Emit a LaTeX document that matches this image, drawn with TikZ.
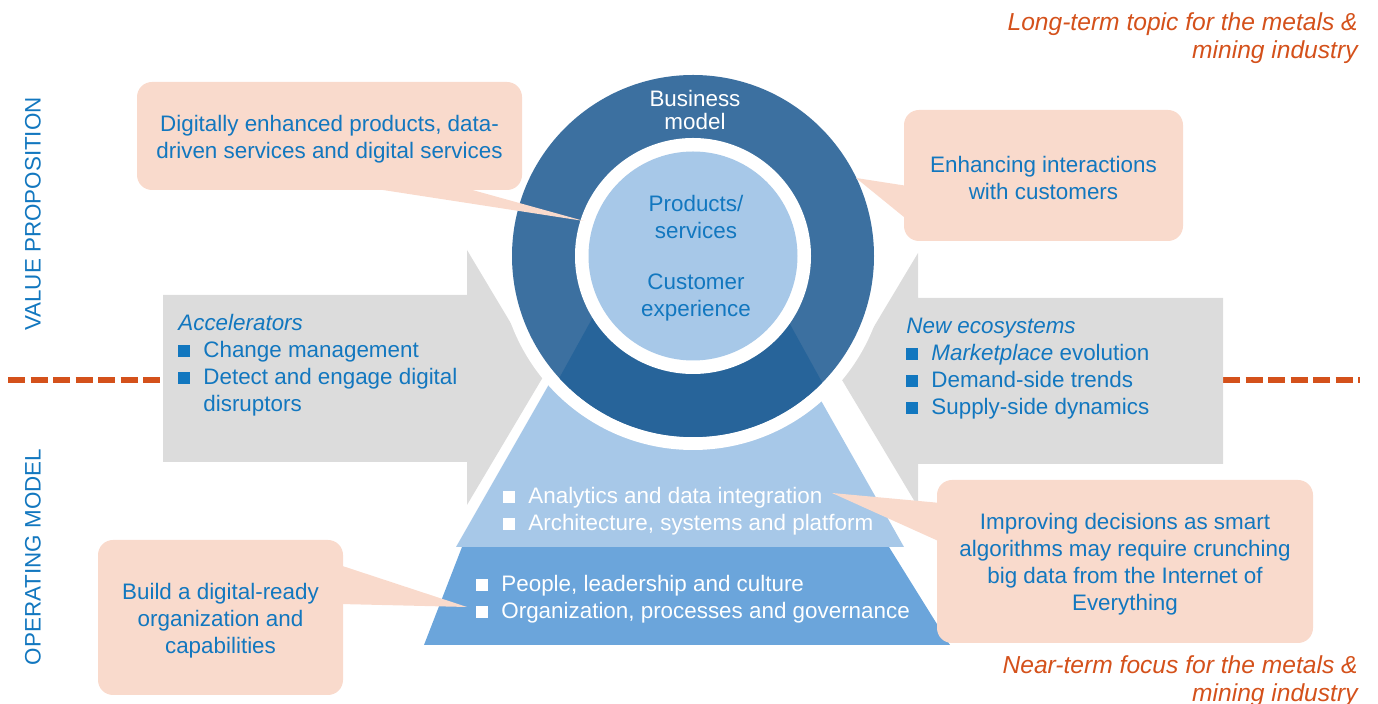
\documentclass[tikz,border=0pt]{standalone}
\usepackage{fontspec}
\setmainfont{Liberation Sans}
\usepackage{xcolor}
\usetikzlibrary{calc}
\definecolor{ringblue}{HTML}{3C70A0}
\definecolor{ringdark}{HTML}{27649A}
\definecolor{paleblue}{HTML}{A7C8E8}
\definecolor{midblue}{HTML}{6BA5DB}
\definecolor{greyarrow}{HTML}{DCDCDC}
\definecolor{salmon}{HTML}{F9DACC}
\definecolor{textblue}{HTML}{1277BF}
\definecolor{rust}{HTML}{D4511B}
\newcommand{\diagfont}{\fontsize{11.2}{13.5}\selectfont}
\newcommand{\sqbul}[1]{\makebox[12.5pt][l]{\textcolor{#1}{\rule[0.4pt]{6pt}{6pt}}}}
\newcommand{\topstrut}{\rule{0pt}{11pt}}
\tikzset{
  callout/.style={rectangle, rounded corners=7.5pt, fill=salmon,
                  text=textblue, align=center, font=\diagfont, inner sep=0pt},
  calltail/.style={fill=salmon},
  chevron/.style={fill=greyarrow},
  listtext/.style={font=\diagfont, text=textblue, align=left,
                   inner sep=0pt, anchor=west},
  whitelist/.style={listtext, text=white},
  ringtext/.style={font=\diagfont, align=center, inner sep=0pt},
  sidelabel/.style={font=\diagfont, text=textblue, rotate=90, inner sep=0pt},
  horizon/.style={font=\fontsize{12.3}{14}\selectfont\itshape, text=rust,
                  align=right, inner sep=0pt, anchor=east},
  splitline/.style={draw=rust, line width=3pt, dash pattern=on 8.5pt off 2.75pt},
}

\begin{document}
\begin{tikzpicture}[x=0.5pt, y=-0.5pt]   %% one unit = one pixel of the layout
  \useasboundingbox (0,0) rectangle (1378,704);

  %% ── Divider between the two halves ───────────────────────────────────────
  \draw[splitline] (8,380) -- (163,380);
  \draw[splitline] (1223,380) -- (1360,380);

  %% ── Grey chevrons (left and right) ───────────────────────────────────────
  \fill[chevron] (163,295) -- (467,295) -- (467,250) -- (543,377)
                 -- (467,505) -- (467,462) -- (163,462) -- cycle;
  \fill[chevron] (1223,298) -- (918,298) -- (918,253) -- (842,380)
                 -- (918,507) -- (918,464) -- (1223,464) -- cycle;

  \node[listtext] (accel) at (178,365.5)
    {\textit{Accelerators}\\
     \sqbul{textblue}Change management\\
     \sqbul{textblue}Detect and engage digital\\
     \hspace*{12.5pt}disruptors};
  \node[listtext] (ecosys) at (906,368.5)
    {\textit{New ecosystems}\\
     \sqbul{textblue}\textit{Marketplace} evolution\\
     \sqbul{textblue}Demand-side trends\\
     \sqbul{textblue}Supply-side dynamics};

  %% ── Pyramid (two bands) ──────────────────────────────────────────────────
  \fill[midblue]  (462,547) -- (889,547) -- (950,645) -- (424,645) -- cycle;
  \fill[paleblue] (456,547) -- (904,547) -- (781,330) -- (580,330) -- cycle;

  \node[whitelist] (techband) at (503,511.5)
    {\sqbul{white}Analytics and data integration\\
     \sqbul{white}Architecture, systems and platform};
  \node[whitelist] (orgband) at (476,599.5)
    {\sqbul{white}People, leadership and culture\\
     \sqbul{white}Organization, processes and governance};

  %% ── Ring and core ────────────────────────────────────────────────────────
  \coordinate (hub) at (693,256);
  \fill[white]    (hub) circle[radius=97pt];
  \fill[ringblue] (hub) circle[radius=90.5pt];
  \begin{scope}
    \clip (hub) circle[radius=90.5pt];
    \fill[ringdark] (630,250) -- (749,250) -- (865,460) -- (514,460) -- cycle;
  \end{scope}
  \fill[white]    (hub) circle[radius=59pt];
  \fill[paleblue] (hub) circle[radius=52.25pt];

  \node[ringtext, text=white, font=\fontsize{11.2}{11.5}\selectfont]
        (bizmodel) at (695,110) {Business\\model};
  \node[ringtext, text=textblue] (prodserv) at (696,217.5) {Products/\\services};
  \node[ringtext, text=textblue] (custexp)  at (696,298)   {Customer\\experience};

  %% ── Callouts ─────────────────────────────────────────────────────────────
  \node[callout, minimum width=192.5pt, minimum height=54pt]
        (digiprod) at (329.5,136)
        {\topstrut Digitally enhanced products, data-\\driven services and digital services};
  \node[callout, minimum width=139.5pt, minimum height=65.5pt]
        (interact) at (1043.5,175.5) {\topstrut Enhancing interactions\\with customers};
  \node[callout, minimum width=188pt, minimum height=81.5pt]
        (smartalg) at (1125,561.5)
        {\topstrut Improving decisions as smart\\algorithms may require crunching\\big data from the Internet of\\Everything};
  \node[callout, minimum width=122.5pt, minimum height=77.5pt]
        (digready) at (220.5,617.5) {\topstrut Build a digital-ready\\organization and\\capabilities};

  \coordinate (digiprodtip) at (584,221);
  \coordinate (interacttip) at (856,178);
  \coordinate (smartalgtip) at (832,493);
  \coordinate (digreadytip) at (467,607);
  \fill[calltail] ($(digiprod.south)+(30,-4)$) -- (digiprodtip)
                  -- ($(digiprod.south)+(130,-4)$) -- cycle;
  \fill[calltail] ($(interact.west)+(4,10.5)$) -- (interacttip)
                  -- ($(interact.west)+(4,44.5)$) -- cycle;
  \fill[calltail] ($(smartalg.west)+(4,-58.5)$) -- (smartalgtip)
                  -- ($(smartalg.west)+(4,-19.5)$) -- cycle;
  \fill[calltail] ($(digready.east)+(-4,-52.5)$) -- (digreadytip)
                  -- ($(digready.east)+(-4,-13.5)$) -- cycle;

  %% ── Side labels and horizon notes ────────────────────────────────────────
  \node[sidelabel] (valprop) at (33,214) {VALUE PROPOSITION};
  \node[sidelabel] (opmodel) at (33,557) {OPERATING MODEL};

  \node[horizon] (longterm) at (1358,38)  {Long-term topic for the metals \&\\mining industry};
  \node[horizon] (nearterm) at (1358,681) {Near-term focus for the metals \&\\mining industry};

\end{tikzpicture}
\end{document}
